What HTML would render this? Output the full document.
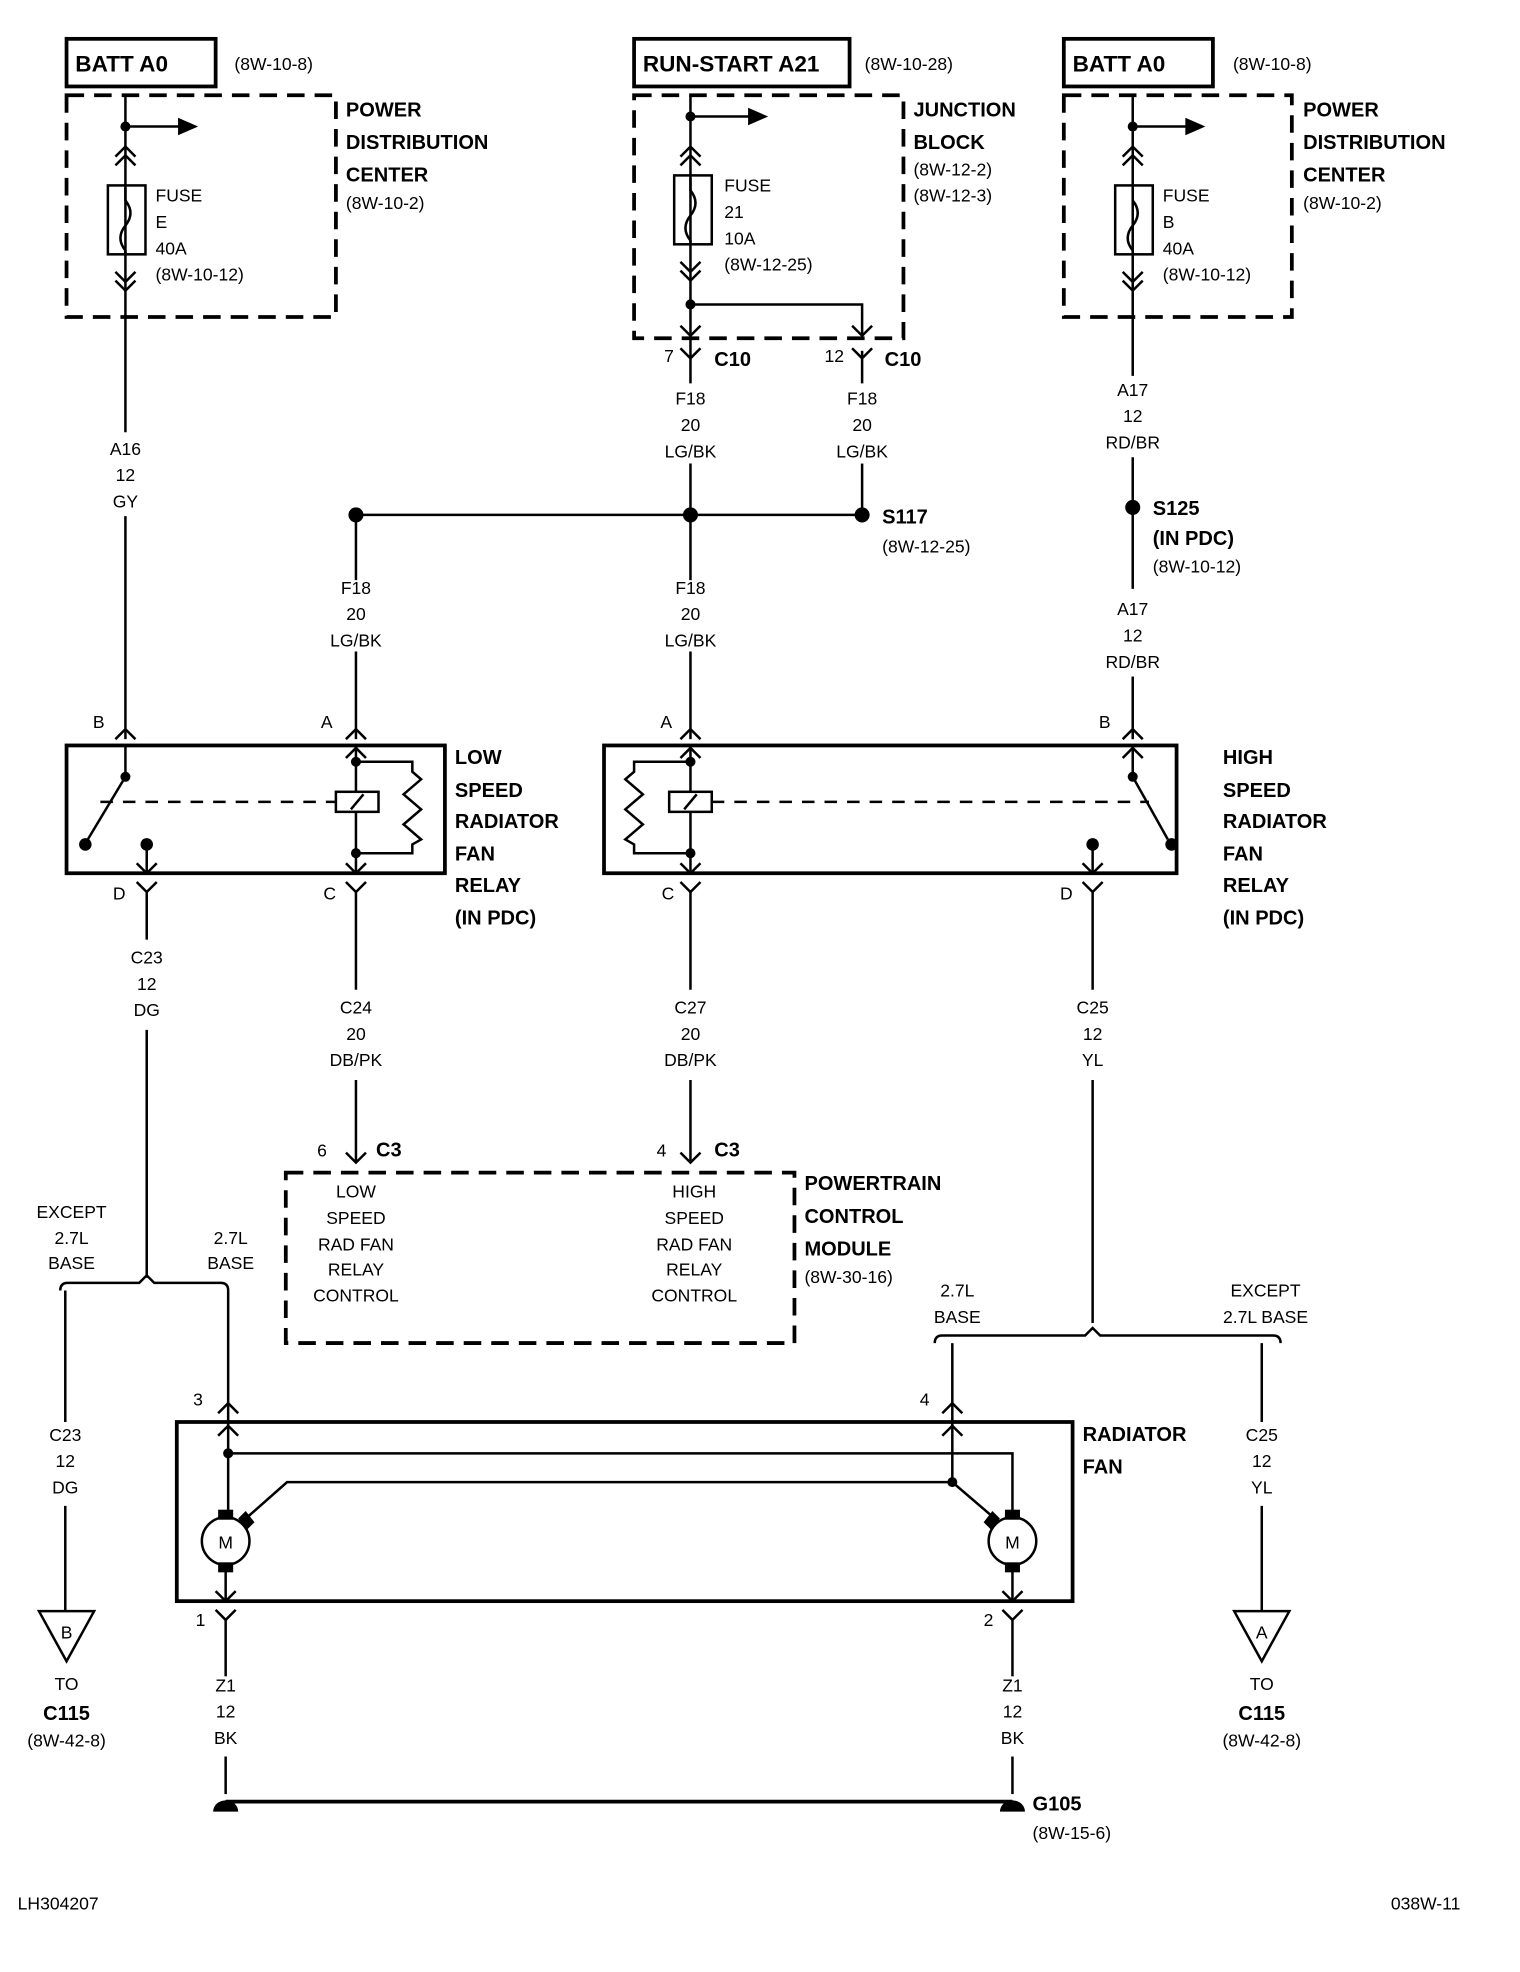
<!DOCTYPE html>
<html><head><meta charset="utf-8"><style>
html,body{margin:0;padding:0;background:#fff}
svg{display:block}
text{font-family:"Liberation Sans",sans-serif;fill:#000}
.s{font-size:14px}
.b{font-size:18px;font-weight:bold}
.m{font-size:16px;font-weight:bold}
.c{text-anchor:middle}
</style></head><body>
<svg width="1520" height="1972" viewBox="0 0 1213 1574" xmlns="http://www.w3.org/2000/svg">
<g fill="none" stroke="#000" stroke-width="2">
<!-- top boxes -->
<rect x="53" y="31" width="119" height="38" stroke-width="3"/>
<rect x="506" y="31" width="172" height="38" stroke-width="3"/>
<rect x="849" y="31" width="119" height="38" stroke-width="3"/>
<g stroke-width="3" stroke-dasharray="14,8">
<rect x="53" y="76" width="215" height="177"/>
<rect x="506" y="76" width="215" height="194"/>
<rect x="849" y="76" width="182" height="177"/>
<rect x="228" y="936" width="406" height="136"/>
</g>
<!-- PDC left -->
<line x1="100" y1="76" x2="100" y2="345"/><line x1="100" y1="412" x2="100" y2="590"/>
<line x1="100" y1="101" x2="145" y2="101"/>
<rect x="86" y="148" width="30" height="55"/>
<path d="M100 150 v10 q8 10 0 20 q-8 10 0 20 v3"/>
<polyline points="92,125 100,117 108,125"/><polyline points="92,132 100,124 108,132"/>
<polyline points="92,217 100,225 108,217"/><polyline points="92,224 100,232 108,224"/>
<!-- PDC right -->
<line x1="904" y1="76" x2="904" y2="300"/><line x1="904" y1="365" x2="904" y2="470"/><line x1="904" y1="540" x2="904" y2="590"/>
<line x1="904" y1="101" x2="949" y2="101"/>
<rect x="890" y="148" width="30" height="55"/>
<path d="M904 150 v10 q8 10 0 20 q-8 10 0 20 v3"/>
<polyline points="896,125 904,117 912,125"/><polyline points="896,132 904,124 912,132"/>
<polyline points="896,217 904,225 912,217"/><polyline points="896,224 904,232 912,224"/>
<!-- junction block -->
<line x1="551" y1="76" x2="551" y2="306"/><line x1="551" y1="370" x2="551" y2="463"/><line x1="551" y1="520" x2="551" y2="590"/>
<line x1="551" y1="93" x2="600" y2="93"/>
<rect x="538" y="140" width="30" height="55"/>
<path d="M551 142 v10 q8 10 0 20 q-8 10 0 20 v3"/>
<polyline points="543,125 551,117 559,125"/><polyline points="543,132 551,124 559,132"/>
<polyline points="543,209 551,217 559,209"/><polyline points="543,216 551,224 559,216"/>
<polyline points="551,243 688,243 688,268"/>
<polyline points="543,260 551,268 559,260"/><polyline points="680,260 688,268 696,260"/>
<polyline points="543,278 551,286 559,278"/><polyline points="680,278 688,286 696,278"/>
<line x1="688" y1="280" x2="688" y2="306"/><line x1="688" y1="370" x2="688" y2="411"/>
<line x1="284" y1="411" x2="688" y2="411"/>
<line x1="284" y1="411" x2="284" y2="463"/><line x1="284" y1="520" x2="284" y2="590"/>
<!-- up connectors above relays -->
<polyline points="92,590 100,582 108,590"/><polyline points="276,590 284,582 292,590"/>
<polyline points="543,590 551,582 559,590"/><polyline points="896,590 904,582 912,590"/>
<!-- low relay -->
<rect x="53" y="595" width="302" height="102" stroke-width="3"/>
<line x1="100" y1="595" x2="100" y2="620"/><line x1="100" y1="620" x2="70" y2="670"/>
<line x1="80" y1="640" x2="268" y2="640" stroke-dasharray="10,8"/>
<line x1="284" y1="595" x2="284" y2="697"/>
<rect x="268" y="632" width="34" height="16" fill="#fff"/><line x1="280" y1="646" x2="290" y2="634"/>
<polyline points="284,608 329,608 329,616 336,622 322,634 336,646 322,658 336,670 329,674 329,681 284,681"/>
<polyline points="276,605 284,597 292,605"/><polyline points="276,689 284,697 292,689"/>
<line x1="117" y1="674" x2="117" y2="697"/><polyline points="109,689 117,697 125,689"/>
<!-- high relay -->
<rect x="482" y="595" width="457" height="102" stroke-width="3"/>
<line x1="551" y1="595" x2="551" y2="697"/>
<rect x="534" y="632" width="34" height="16" fill="#fff"/><line x1="546" y1="646" x2="556" y2="634"/>
<polyline points="551,608 506,608 506,616 499,622 513,634 499,646 513,658 499,670 506,674 506,681 551,681"/>
<polyline points="543,605 551,597 559,605"/><polyline points="543,689 551,697 559,689"/>
<line x1="568" y1="640" x2="917" y2="640" stroke-dasharray="10,8"/>
<line x1="904" y1="595" x2="904" y2="620"/><line x1="904" y1="620" x2="932" y2="670"/>
<polyline points="896,605 904,597 912,605"/>
<line x1="872" y1="674" x2="872" y2="697"/><polyline points="864,689 872,697 880,689"/>
<!-- Y connectors below relays -->
<polyline points="109,704 117,712 125,704"/><polyline points="276,704 284,712 292,704"/>
<polyline points="543,704 551,712 559,704"/><polyline points="864,704 872,712 880,704"/>
<line x1="117" y1="712" x2="117" y2="750"/><line x1="117" y1="822" x2="117" y2="1020"/>
<line x1="284" y1="712" x2="284" y2="790"/><line x1="284" y1="862" x2="284" y2="928"/>
<line x1="551" y1="712" x2="551" y2="790"/><line x1="551" y1="862" x2="551" y2="928"/>
<line x1="872" y1="712" x2="872" y2="790"/><line x1="872" y1="862" x2="872" y2="1056"/>
<polyline points="276,920 284,928 292,920"/><polyline points="543,920 551,928 559,920"/>
<!-- left split -->
<path d="M48 1030 q0 -6 6 -6 H111 L117 1018 L123 1024 H176 q6 0 6 6"/>
<line x1="52" y1="1030" x2="52" y2="1135"/><line x1="52" y1="1202" x2="52" y2="1286"/>
<line x1="182" y1="1030" x2="182" y2="1135"/>
<polygon points="31,1286 75,1286 53,1326"/>
<!-- right split -->
<path d="M746 1072 q0 -6 6 -6 H866 L872 1060 L878 1066 H1016 q6 0 6 6"/>
<line x1="760" y1="1072" x2="760" y2="1135"/>
<line x1="1007" y1="1072" x2="1007" y2="1135"/><line x1="1007" y1="1202" x2="1007" y2="1286"/>
<polygon points="985,1286 1029,1286 1007,1326"/>
<!-- radiator fan -->
<polyline points="174,1128 182,1120 190,1128"/><polyline points="752,1128 760,1120 768,1128"/>
<rect x="141" y="1135" width="715" height="143" stroke-width="3"/>
<polyline points="174,1146 182,1138 190,1146"/><polyline points="752,1146 760,1138 768,1146"/>
<line x1="182" y1="1135" x2="182" y2="1210"/>
<polyline points="182,1160 808,1160 808,1210"/>
<line x1="760" y1="1135" x2="760" y2="1183"/>
<polyline points="195,1213 229,1183 760,1183 795,1213"/>
<circle cx="180" cy="1230" r="19"/><circle cx="808" cy="1230" r="19"/>
<line x1="180" y1="1249" x2="180" y2="1278"/><line x1="808" y1="1249" x2="808" y2="1278"/>
<polyline points="172,1270 180,1278 188,1270"/><polyline points="800,1270 808,1278 816,1270"/>
<polyline points="172,1285 180,1293 188,1285"/><polyline points="800,1285 808,1293 816,1285"/>
<line x1="180" y1="1293" x2="180" y2="1338"/><line x1="180" y1="1402" x2="180" y2="1432"/>
<line x1="808" y1="1293" x2="808" y2="1338"/><line x1="808" y1="1402" x2="808" y2="1432"/>
<line x1="180" y1="1438" x2="808" y2="1438" stroke-width="3"/>
</g>
<g fill="#000">
<circle cx="100" cy="101" r="4"/><polygon points="142,94 158,101 142,108"/>
<circle cx="904" cy="101" r="4"/><polygon points="946,94 962,101 946,108"/>
<circle cx="551" cy="93" r="4"/><polygon points="597,86 613,93 597,100"/>
<circle cx="551" cy="243" r="4"/>
<circle cx="284" cy="411" r="6"/><circle cx="551" cy="411" r="6"/><circle cx="688" cy="411" r="6"/>
<circle cx="904" cy="405" r="6"/>
<circle cx="100" cy="620" r="4"/><circle cx="68" cy="674" r="5"/><circle cx="117" cy="674" r="5"/>
<circle cx="284" cy="608" r="4"/><circle cx="284" cy="681" r="4"/>
<circle cx="551" cy="608" r="4"/><circle cx="551" cy="681" r="4"/>
<circle cx="904" cy="620" r="4"/><circle cx="935" cy="674" r="5"/><circle cx="872" cy="674" r="5"/>
<circle cx="182" cy="1160" r="4"/><circle cx="760" cy="1183" r="4"/>
<rect x="174" y="1205" width="12" height="8"/><rect x="174" y="1247" width="12" height="8"/>
<rect x="802" y="1205" width="12" height="8"/><rect x="802" y="1247" width="12" height="8"/>
<polygon points="190,1212 196,1206 203,1215 197,1221"/>
<polygon points="798,1212 792,1206 785,1215 791,1221"/>
<path d="M170 1446 a10 9 0 0 1 20 0 z"/><path d="M798 1446 a10 9 0 0 1 20 0 z"/>
</g>
<!-- text -->
<text class="b" x="60" y="57">BATT A0</text><text class="s" x="187" y="56">(8W-10-8)</text>
<text class="b" x="513" y="57">RUN-START A21</text><text class="s" x="690" y="56">(8W-10-28)</text>
<text class="b" x="856" y="57">BATT A0</text><text class="s" x="984" y="56">(8W-10-8)</text>
<g class="m"><text x="276" y="93">POWER</text><text x="276" y="119">DISTRIBUTION</text><text x="276" y="145">CENTER</text></g>
<text class="s" x="276" y="167">(8W-10-2)</text>
<g class="m"><text x="1040" y="93">POWER</text><text x="1040" y="119">DISTRIBUTION</text><text x="1040" y="145">CENTER</text></g>
<text class="s" x="1040" y="167">(8W-10-2)</text>
<g class="m"><text x="729" y="93">JUNCTION</text><text x="729" y="119">BLOCK</text></g>
<text class="s" x="729" y="140">(8W-12-2)</text><text class="s" x="729" y="161">(8W-12-3)</text>
<g class="s"><text x="124" y="161">FUSE</text><text x="124" y="182">E</text><text x="124" y="203">40A</text><text x="124" y="224">(8W-10-12)</text>
<text x="578" y="153">FUSE</text><text x="578" y="174">21</text><text x="578" y="195">10A</text><text x="578" y="216">(8W-12-25)</text>
<text x="928" y="161">FUSE</text><text x="928" y="182">B</text><text x="928" y="203">40A</text><text x="928" y="224">(8W-10-12)</text></g>
<text class="s" x="530" y="289">7</text><text class="m" x="570" y="292">C10</text>
<text class="s" x="658" y="289">12</text><text class="m" x="706" y="292">C10</text>
<g class="s c">
<text x="100" y="363">A16</text><text x="100" y="384">12</text><text x="100" y="405">GY</text>
<text x="551" y="323">F18</text><text x="551" y="344">20</text><text x="551" y="365">LG/BK</text>
<text x="688" y="323">F18</text><text x="688" y="344">20</text><text x="688" y="365">LG/BK</text>
<text x="904" y="316">A17</text><text x="904" y="337">12</text><text x="904" y="358">RD/BR</text>
<text x="284" y="474">F18</text><text x="284" y="495">20</text><text x="284" y="516">LG/BK</text>
<text x="551" y="474">F18</text><text x="551" y="495">20</text><text x="551" y="516">LG/BK</text>
<text x="904" y="491">A17</text><text x="904" y="512">12</text><text x="904" y="533">RD/BR</text>
<text x="117" y="769">C23</text><text x="117" y="790">12</text><text x="117" y="811">DG</text>
<text x="284" y="809">C24</text><text x="284" y="830">20</text><text x="284" y="851">DB/PK</text>
<text x="551" y="809">C27</text><text x="551" y="830">20</text><text x="551" y="851">DB/PK</text>
<text x="872" y="809">C25</text><text x="872" y="830">12</text><text x="872" y="851">YL</text>
<text x="284" y="956">LOW</text><text x="284" y="977">SPEED</text><text x="284" y="998">RAD FAN</text><text x="284" y="1018">RELAY</text><text x="284" y="1039">CONTROL</text>
<text x="554" y="956">HIGH</text><text x="554" y="977">SPEED</text><text x="554" y="998">RAD FAN</text><text x="554" y="1018">RELAY</text><text x="554" y="1039">CONTROL</text>
<text x="57" y="972">EXCEPT</text><text x="57" y="993">2.7L</text><text x="57" y="1013">BASE</text>
<text x="184" y="993">2.7L</text><text x="184" y="1013">BASE</text>
<text x="764" y="1035">2.7L</text><text x="764" y="1056">BASE</text>
<text x="1010" y="1035">EXCEPT</text><text x="1010" y="1056">2.7L BASE</text>
<text x="52" y="1150">C23</text><text x="52" y="1171">12</text><text x="52" y="1192">DG</text>
<text x="1007" y="1150">C25</text><text x="1007" y="1171">12</text><text x="1007" y="1192">YL</text>
<text x="53" y="1308">B</text><text x="1007" y="1308">A</text>
<text x="53" y="1349">TO</text><text x="53" y="1394">(8W-42-8)</text>
<text x="1007" y="1349">TO</text><text x="1007" y="1394">(8W-42-8)</text>
<text x="180" y="1350">Z1</text><text x="180" y="1371">12</text><text x="180" y="1392">BK</text>
<text x="808" y="1350">Z1</text><text x="808" y="1371">12</text><text x="808" y="1392">BK</text>
<text x="180" y="1236">M</text><text x="808" y="1236">M</text>
</g>
<text class="m c" x="53" y="1373">C115</text><text class="m c" x="1007" y="1373">C115</text>
<text class="m" x="704" y="418">S117</text><text class="s" x="704" y="441">(8W-12-25)</text>
<text class="m" x="920" y="411">S125</text><text class="m" x="920" y="435">(IN PDC)</text><text class="s" x="920" y="457">(8W-10-12)</text>
<g class="s"><text x="74" y="581">B</text><text x="256" y="581">A</text><text x="527" y="581">A</text><text x="877" y="581">B</text>
<text x="90" y="718">D</text><text x="258" y="718">C</text><text x="528" y="718">C</text><text x="846" y="718">D</text>
<text x="253" y="923">6</text><text x="524" y="923">4</text>
<text x="154" y="1122">3</text><text x="734" y="1122">4</text><text x="156" y="1298">1</text><text x="785" y="1298">2</text>
<text x="14" y="1524">LH304207</text><text x="1110" y="1524">038W-11</text></g>
<text class="m" x="300" y="923">C3</text><text class="m" x="570" y="923">C3</text>
<g class="m"><text x="363" y="610">LOW</text><text x="363" y="636">SPEED</text><text x="363" y="661">RADIATOR</text><text x="363" y="687">FAN</text><text x="363" y="712">RELAY</text><text x="363" y="738">(IN PDC)</text>
<text x="976" y="610">HIGH</text><text x="976" y="636">SPEED</text><text x="976" y="661">RADIATOR</text><text x="976" y="687">FAN</text><text x="976" y="712">RELAY</text><text x="976" y="738">(IN PDC)</text>
<text x="642" y="950">POWERTRAIN</text><text x="642" y="976">CONTROL</text><text x="642" y="1002">MODULE</text>
<text x="864" y="1150">RADIATOR</text><text x="864" y="1176">FAN</text>
<text x="824" y="1445">G105</text></g>
<text class="s" x="642" y="1024">(8W-30-16)</text><text class="s" x="824" y="1468">(8W-15-6)</text>
</svg>
</body></html>
